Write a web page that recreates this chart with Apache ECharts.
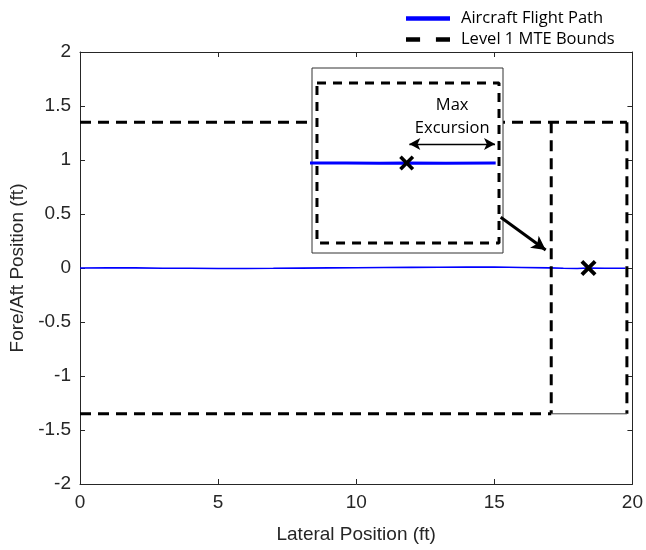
<!DOCTYPE html>
<html>
<head>
<meta charset="utf-8">
<script src="https://cdn.jsdelivr.net/npm/echarts@6/dist/echarts.min.js"></script>
<style>html,body{margin:0;padding:0;background:#fff;}#chart{width:646px;height:550px;}</style>
</head>
<body>
<div id="chart"></div>
<script>
// ---- data ----
var flightPath = [[0,0],[1,0.002],[2,0.001],[3,-0.002],[4,-0.003],[5,-0.004],[6,-0.004],[7,-0.003],[8,-0.001],[9,0.001],[10,0.003],[11,0.005],[12,0.006],[13,0.007],[14,0.008],[15,0.009],[16,0.005],[17,0.001],[17.5,-0.002],[18,-0.004],[18.4,0],[19,-0.003],[19.75,-0.002]];
var boundTop = [[0,1.35],[19.8,1.35]];
var boundBottom = [[0,-1.35],[17.06,-1.35]];
var boundBoxBottom = [[17.06,-1.35],[19.8,-1.35]];
var boundLeft = [[17.06,1.35],[17.06,-1.35]];
var boundRight = [[19.8,1.35],[19.8,-1.35]];
var boundBox = [[17.06,1.35],[19.8,1.35],[19.8,-1.35],[17.06,-1.35],[17.06,1.35]];
var maxPoint = [[18.41,0]];
var pointerArrow = [[15.23,0.47],[16.86,0.167]];
var excursionArrow = [[18.45,0.32],[19.74,0.32]];
var xTicks = [0,5,10,15,20];
var yTicks = [-2,-1.5,-1,-0.5,0,0.5,1,1.5,2];
var legendNames = ['Aircraft Flight Path','Level 1 MTE Bounds'];

var crossPath = 'path://M0,1.7 L1.7,0 L5,3.3 L8.3,0 L10,1.7 L6.7,5 L10,8.3 L8.3,10 L5,6.7 L1.7,10 L0,8.3 L3.3,5 Z';
var axisFont = 'Liberation Sans';
var textFont = 'Open Sans';

var chart = echarts.init(document.getElementById('chart'), null, {renderer:'canvas'});

function mainAxisCommon(){
  return {
    axisLine:{show:true, onZero:false, lineStyle:{color:'#262626', width:1}},
    axisTick:{show:true, inside:true, length:5, lineStyle:{color:'#262626'}},
    splitLine:{show:false}
  };
}
var xBottom = Object.assign(mainAxisCommon(), {
  type:'value', gridIndex:0, position:'bottom', min:xTicks[0], max:xTicks[xTicks.length-1], interval:5,
  axisLabel:{show:true, fontSize:19, color:'#262626', fontFamily:axisFont, margin:9},
  name:'Lateral Position (ft)', nameLocation:'middle', nameGap:41,
  nameTextStyle:{fontSize:19, color:'#262626', fontFamily:axisFont}
});
var xTop = Object.assign(mainAxisCommon(), {
  type:'value', gridIndex:0, position:'top', min:0, max:20, interval:5, axisLabel:{show:false}
});
var yLeft = Object.assign(mainAxisCommon(), {
  type:'value', gridIndex:0, position:'left', min:yTicks[0], max:yTicks[yTicks.length-1], interval:0.5,
  axisLabel:{show:true, fontSize:19, color:'#262626', fontFamily:axisFont, margin:9},
  name:'Fore/Aft Position (ft)', nameLocation:'middle', nameGap:52,
  nameTextStyle:{fontSize:19, color:'#262626', fontFamily:axisFont}
});
var yRight = Object.assign(mainAxisCommon(), {
  type:'value', gridIndex:0, position:'right', min:-2, max:2, interval:0.5, axisLabel:{show:false}
});

var option = {
  animation:false,
  backgroundColor:'#ffffff',
  legend:{
    orient:'vertical', left:401, top:5, itemWidth:44, itemHeight:14, itemGap:4,
    textStyle:{fontSize:16.5, color:'#000', fontFamily:textFont, padding:[0,0,0,6]},
    selectedMode:false,
    data:[
      {name:legendNames[0], icon:'path://M0,0 L10,0 L10,1 L0,1 Z', itemStyle:{color:'#0000ff'}},
      {name:legendNames[1], icon:'path://M0,0 L3.2,0 L3.2,1 L0,1 Z M6.8,0 L10,0 L10,1 L6.8,1 Z', itemStyle:{color:'#000'}}
    ]
  },
  grid:[
    {left:80, top:52, width:554, height:432, show:false},
    {left:312, top:68, width:191, height:185, show:true, backgroundColor:'#fff', borderColor:'#333', borderWidth:1, z:5}
  ],
  xAxis:[xBottom, xTop,
    {type:'value', gridIndex:1, min:16.985, max:19.86, show:false}
  ],
  yAxis:[yLeft, yRight,
    {type:'value', gridIndex:1, min:-1.519, max:1.603, show:false}
  ],
  series:[
    {name:legendNames[0], type:'line', xAxisIndex:0, yAxisIndex:0, data:flightPath, showSymbol:false, symbol:'none',
      lineStyle:{color:'#0000ff', width:1.6}, itemStyle:{color:'#0000ff'}, z:2},
    {name:legendNames[1], type:'line', xAxisIndex:0, yAxisIndex:0, data:boundTop, symbol:'none',
      lineStyle:{color:'#000', width:3, type:[11,7]}, itemStyle:{color:'#000'}, z:3},
    {name:legendNames[1], type:'line', xAxisIndex:0, yAxisIndex:0, data:boundBottom, symbol:'none',
      lineStyle:{color:'#000', width:3, type:[11,7]}, itemStyle:{color:'#000'}, z:3},
    {name:legendNames[1], type:'line', xAxisIndex:0, yAxisIndex:0, data:boundLeft, symbol:'none',
      lineStyle:{color:'#000', width:3, type:[11,7]}, itemStyle:{color:'#000'}, z:3},
    {name:legendNames[1], type:'line', xAxisIndex:0, yAxisIndex:0, data:boundRight, symbol:'none',
      lineStyle:{color:'#000', width:3, type:[11,7]}, itemStyle:{color:'#000'}, z:3},
    {type:'line', xAxisIndex:0, yAxisIndex:0, data:boundBoxBottom, symbol:'none',
      lineStyle:{color:'#444', width:1}, z:3},
    {type:'scatter', xAxisIndex:0, yAxisIndex:0, data:maxPoint, symbol:crossPath, symbolSize:16,
      itemStyle:{color:'#000', opacity:1}, z:4,
      markLine:{silent:true, symbol:['none','arrow'], symbolSize:[11,14],
        lineStyle:{color:'#000', width:3, type:'solid', opacity:1}, label:{show:false},
        data:[[{coord:pointerArrow[0]},{coord:pointerArrow[1]}]]}
    },
    // inset
    {type:'line', xAxisIndex:2, yAxisIndex:2, data:flightPath, symbol:'none', clip:true,
      lineStyle:{color:'#0000ff', width:3}, z:10},
    {type:'line', xAxisIndex:2, yAxisIndex:2, data:boundBox, symbol:'none',
      lineStyle:{color:'#000', width:3, type:[9,7]}, z:11},
    {type:'scatter', xAxisIndex:2, yAxisIndex:2, data:maxPoint, symbol:crossPath, symbolSize:15,
      itemStyle:{color:'#000', opacity:1}, z:12,
      markLine:{silent:true, symbol:['arrow','arrow'], symbolSize:[9,11],
        lineStyle:{color:'#000', width:1.3, type:'solid', opacity:1},
        label:{show:true, position:'middle', formatter:'Max\nExcursion', fontSize:16.5, lineHeight:23,
          color:'#000', fontFamily:textFont, distance:4},
        data:[[{coord:excursionArrow[0]},{coord:excursionArrow[1]}]]}
    }
  ]
};
chart.setOption(option);
</script>
</body>
</html>
